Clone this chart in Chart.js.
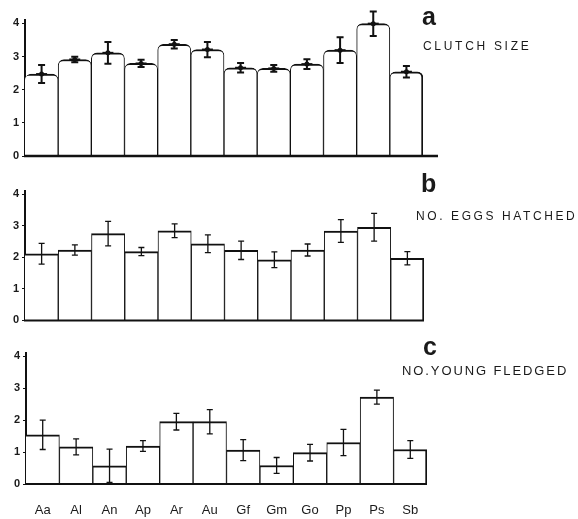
<!DOCTYPE html>
<html>
<head>
<meta charset="utf-8">
<script src="https://cdn.jsdelivr.net/npm/chart.js@4"></script>
<style>
  html, body { margin: 0; padding: 0; background: #fff; }
  #wrap { position: relative; width: 578px; height: 519px; overflow: hidden; background: #fff; }
  canvas { position: absolute; left: 0; }
  .lbl { position: absolute; white-space: nowrap; line-height: 1; font-family: "Liberation Sans", Arial, sans-serif; color: #1a1a1a; }
  .big { font-size: 25px; font-weight: bold; }
</style>
</head>
<body>
<div id="wrap">
  <canvas id="ca" width="578" height="170" style="top:0px"></canvas>
  <canvas id="cb" width="578" height="160" style="top:170px"></canvas>
  <canvas id="cc" width="578" height="189" style="top:330px"></canvas>
  <div class="lbl big" style="left:422px; top:4px;">a</div>
  <div class="lbl" style="left:423px; top:40px; font-size:12px; letter-spacing:2.7px;">CLUTCH SIZE</div>
  <div class="lbl big" style="left:421px; top:171px;">b</div>
  <div class="lbl" style="left:416px; top:210px; font-size:12px; letter-spacing:2.6px;">NO. EGGS HATCHED</div>
  <div class="lbl big" style="left:423px; top:334px;">c</div>
  <div class="lbl" style="left:402px; top:364px; font-size:13px; letter-spacing:1.9px;">NO.YOUNG FLEDGED</div>
</div>
<script>
const categories = ['Aa','Al','An','Ap','Ar','Au','Gf','Gm','Go','Pp','Ps','Sb'];
const yTicks = [0, 1, 2, 3, 4];

const clutchMean = [2.47, 2.91, 3.11, 2.79, 3.37, 3.21, 2.66, 2.64, 2.77, 3.19, 3.99, 2.54];
const clutchErr  = [0.27, 0.08, 0.33, 0.11, 0.13, 0.23, 0.14, 0.10, 0.15, 0.39, 0.37, 0.17];

const hatchedMean = [2.11, 2.23, 2.75, 2.18, 2.84, 2.43, 2.22, 1.92, 2.23, 2.83, 2.95, 1.97];
const hatchedErr  = [0.33, 0.16, 0.39, 0.13, 0.22, 0.28, 0.29, 0.25, 0.19, 0.36, 0.44, 0.21];

const fledgedMean = [1.54, 1.16, 0.57, 1.19, 1.95, 1.95, 1.06, 0.58, 0.98, 1.30, 2.72, 1.08];
const fledgedErr  = [0.46, 0.25, 0.52, 0.17, 0.26, 0.38, 0.33, 0.25, 0.26, 0.41, 0.22, 0.28];

const INK = '#111';

const errPlugin = {
  id: 'errbars',
  afterDatasetsDraw(chart, args, o) {
    const ctx = chart.ctx;
    const xs = chart.scales.x, ys = chart.scales.y;
    const area = chart.chartArea;
    ctx.save();
    ctx.strokeStyle = INK;
    ctx.lineWidth = o.baseWidth;
    ctx.beginPath();
    ctx.moveTo(area.left - 1, area.bottom);
    ctx.lineTo(area.right + o.extend, area.bottom);
    ctx.stroke();
    const means = chart.data.datasets[0].data;
    const errs = o.errors;
    ctx.lineWidth = o.lineWidth;
    ctx.lineCap = 'butt';
    means.forEach((m, i) => {
      const x = xs.getPixelForValue(i);
      const yt = ys.getPixelForValue(m + errs[i]);
      const yb = ys.getPixelForValue(m - errs[i]);
      const ym = ys.getPixelForValue(m);
      ctx.beginPath();
      ctx.moveTo(x, yt); ctx.lineTo(x, yb);
      ctx.moveTo(x - o.cap, yt); ctx.lineTo(x + o.cap, yt);
      ctx.moveTo(x - o.cap, yb); ctx.lineTo(x + o.cap, yb);
      ctx.stroke();
      if (o.dot) {
        ctx.beginPath();
        ctx.moveTo(x - o.dot * 2.2, ym); ctx.lineTo(x + o.dot * 2.2, ym);
        ctx.stroke();
        ctx.fillStyle = INK;
        ctx.beginPath();
        ctx.arc(x, ym, o.dot, 0, Math.PI * 2);
        ctx.fill();
      }
    });
    ctx.restore();
  }
};

function makeChart(id, means, errs, cfg) {
  return new Chart(document.getElementById(id), {
    type: 'bar',
    data: {
      labels: categories,
      datasets: [{
        data: means,
        backgroundColor: '#fff',
        borderColor: INK,
        borderWidth: (c) => ({ top: cfg.topW, left: c.dataIndex === 0 ? 0 : 1, right: c.dataIndex === 11 ? 2 : 1, bottom: 0 }),
        borderRadius: cfg.radius,
        borderSkipped: 'start',
        categoryPercentage: 1,
        barPercentage: 1
      }]
    },
    options: {
      responsive: false,
      animation: false,
      events: [],
      layout: { padding: { top: cfg.top, right: cfg.right, bottom: cfg.bottom, left: 0 } },
      plugins: {
        legend: { display: false },
        tooltip: { enabled: false },
        errbars: { errors: errs, lineWidth: cfg.errW, cap: cfg.cap, dot: cfg.dot, extend: cfg.extend, baseWidth: cfg.baseW }
      },
      scales: {
        x: {
          grid: { display: false, drawTicks: false },
          border: { display: false },
          ticks: {
            display: cfg.showX,
            color: '#1a1a1a',
            padding: 19,
            font: { family: '"Liberation Sans", Arial, sans-serif', size: 13 },
            maxRotation: 0, autoSkip: false
          },
          afterFit: (s) => { s.height = cfg.xh; }
        },
        y: {
          min: 0,
          max: 4.1,
          afterBuildTicks: (s) => { s.ticks = yTicks.map(v => ({ value: v })); },
          grid: { display: true, drawOnChartArea: false, drawTicks: true, tickLength: 3, color: INK, lineWidth: 1 },
          border: { display: true, color: INK, width: 2 },
          ticks: {
            color: '#1a1a1a',
            padding: 3,
            font: { family: '"Liberation Sans", Arial, sans-serif', size: 11, weight: 'bold' }
          },
          afterFit: (s) => { s.width = cfg.left; }
        }
      }
    },
    plugins: [errPlugin]
  });
}

makeChart('ca', clutchMean, clutchErr, {
  top: 20, right: 155, bottom: 14, left: 25, xh: 0, showX: false,
  topW: 2, radius: { topLeft: 6, topRight: 6, bottomLeft: 0, bottomRight: 0 },
  errW: 2, cap: 3.5, dot: 2.5, extend: 15, baseW: 2.5
});
makeChart('cb', hatchedMean, hatchedErr, {
  top: 21, right: 154, bottom: 8, left: 25, xh: 0, showX: false,
  topW: 2, radius: 0,
  errW: 1.3, cap: 3, dot: 0, extend: 0, baseW: 2
});
makeChart('cc', fledgedMean, fledgedErr, {
  top: 23, right: 151, bottom: 0, left: 26, xh: 35, showX: true,
  topW: 2, radius: 0,
  errW: 1.3, cap: 3, dot: 0, extend: 0, baseW: 2
});
</script>
</body>
</html>
